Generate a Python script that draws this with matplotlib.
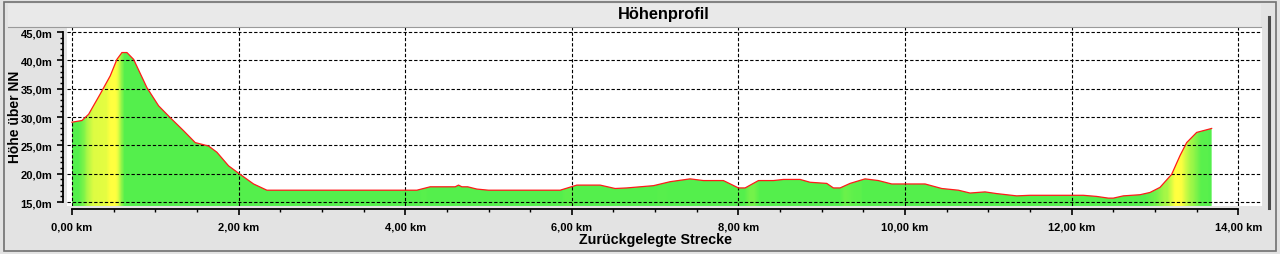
import numpy as np
import matplotlib
matplotlib.use("Agg")
import matplotlib.pyplot as plt
from matplotlib.ticker import MultipleLocator, FuncFormatter
from matplotlib.patches import Rectangle
from matplotlib.lines import Line2D

# Höhenprofil – Strecke (km) und Höhe (m)
strecke_km = [0.00, 0.12, 0.20, 0.34, 0.46, 0.54, 0.60, 0.66, 0.74, 0.90,
              1.04, 1.18, 1.34, 1.48, 1.64, 1.74, 1.88, 2.00, 2.18, 2.34,
              4.14, 4.30, 4.60, 4.64, 4.68, 4.75, 4.86, 5.00, 5.86, 6.06,
              6.34, 6.52, 6.66, 6.98, 7.18, 7.42, 7.58, 7.82, 8.00, 8.08,
              8.24, 8.42, 8.54, 8.74, 8.86, 9.06, 9.14, 9.22, 9.34, 9.52,
              9.68, 9.84, 10.24, 10.44, 10.64, 10.78, 10.96, 11.10, 11.34, 11.50,
              12.14, 12.30, 12.44, 12.50, 12.62, 12.82, 12.94, 13.06, 13.20, 13.30,
              13.38, 13.50, 13.68]
hoehe_m = [29.1, 29.4, 30.5, 34.1, 37.3, 40.2, 41.4, 41.4, 40.2, 35.2,
           32.0, 29.9, 27.6, 25.5, 24.9, 23.8, 21.4, 20.1, 18.2, 17.1,
           17.1, 17.7, 17.7, 18.0, 17.7, 17.7, 17.3, 17.1, 17.1, 18.0,
           18.0, 17.4, 17.5, 17.9, 18.6, 19.1, 18.8, 18.8, 17.5, 17.5,
           18.8, 18.8, 19.0, 19.0, 18.5, 18.3, 17.5, 17.5, 18.3, 19.1,
           18.8, 18.2, 18.2, 17.4, 17.1, 16.6, 16.8, 16.5, 16.1, 16.2,
           16.2, 16.0, 15.7, 15.7, 16.1, 16.3, 16.7, 17.6, 19.9, 23.2,
           25.5, 27.3, 28.0]

x_ticks = [0, 2, 4, 6, 8, 10, 12, 14]
y_ticks = [15, 20, 25, 30, 35, 40, 45]

km = np.array(strecke_km)
h = np.array(hoehe_m)

bg = "#e3e3e3"
fig = plt.figure(figsize=(12.8, 2.55), dpi=100, facecolor=bg)
plt.rcParams['font.family'] = ['Liberation Sans', 'DejaVu Sans']

# Rahmen und Titelleiste
fig.patches.append(Rectangle((0.003, 0.012), 0.994, 0.976, transform=fig.transFigure,
                             fill=False, edgecolor="#707070", lw=1.2))
fig.patches.append(Rectangle((0.006, 0.892), 0.979, 0.09, transform=fig.transFigure,
                             facecolor="#e9e9e9", edgecolor="none"))
fig.lines.append(Line2D([0.006, 0.985], [0.892, 0.892], transform=fig.transFigure,
                        color="#9a9a9a", lw=0.8))
# Scrollleiste rechts
fig.lines.append(Line2D([0.9914, 0.9914], [0.18, 0.93], transform=fig.transFigure,
                        color="#4a4a4a", lw=2.2))

ax = fig.add_axes([0.0523, 0.188, 0.934, 0.702])
ax.set_facecolor("white")
ax.set_xlim(-0.06, 14.29)
ax.set_ylim(14.3, 45.9)

# Füllfarbe nach Steigung (grün -> gelb)
xs = np.linspace(0, km[-1], 1400)
ys = np.interp(xs, km, h)
slope = np.gradient(ys, xs)
kern = np.ones(11) / 11
slope = np.convolve(slope, kern, mode="same")
t = np.clip((slope - 3) / 28.0, 0, 1)
green = np.array([0.33, 0.94, 0.30])
yellow = np.array([1.0, 1.0, 0.25])
cols = green[None, :] * (1 - t[:, None]) + yellow[None, :] * t[:, None]
img = cols[None, :, :]

poly = ax.fill_between(km, h, 14.3, color="none", lw=0)
im = ax.imshow(img, extent=[0, km[-1], 14.3, 45.9], aspect="auto",
               interpolation="bilinear", zorder=1)
path = poly.get_paths()[0]
im.set_clip_path(path, transform=ax.transData)
ax.plot(km, h, color="#ff1a1a", lw=0.9, zorder=3)

# Gitter
for xv in x_ticks:
    ax.axvline(xv, color="black", lw=0.8, ls=(0, (3, 1.8)), zorder=2)
for yv in y_ticks:
    ax.axhline(yv, color="black", lw=0.8, ls=(0, (3, 1.8)), zorder=2)

ax.spines['top'].set_visible(False)
ax.spines['right'].set_visible(False)
ax.spines['left'].set_position(('outward', 3))
ax.spines['bottom'].set_position(('outward', 2))
ax.spines['left'].set_bounds(15, 45)
ax.spines['bottom'].set_bounds(0, 14)
ax.spines['left'].set_linewidth(1.3)
ax.spines['bottom'].set_linewidth(1.3)

ax.set_xticks(x_ticks)
ax.set_yticks(y_ticks)
ax.xaxis.set_minor_locator(MultipleLocator(0.5))
ax.yaxis.set_minor_locator(MultipleLocator(1))
ax.xaxis.set_major_formatter(FuncFormatter(lambda v, p: f"{v:.2f} km".replace(".", ",")))
ax.yaxis.set_major_formatter(FuncFormatter(lambda v, p: f"{v:.1f}m".replace(".", ",")))
ax.tick_params(axis="both", which="major", labelsize=8, width=1.2, length=4.5, colors="black")
ax.tick_params(axis="both", which="minor", width=1.0, length=2.2)
ax.tick_params(axis="y", which="major", pad=3)
ax.tick_params(axis="x", which="major", pad=4.5)
for lab in ax.get_xticklabels() + ax.get_yticklabels():
    lab.set_fontweight("bold")

fig.text(0.5187, 0.945, "Höhenprofil", ha="center", va="center", fontsize=11.8, fontweight="bold")
fig.text(0.512, 0.059, "Zurückgelegte Strecke", ha="center", va="center", fontsize=10.3, fontweight="bold")
fig.text(0.0117, 0.54, "Höhe über NN", ha="center", va="center", rotation=90,
         fontsize=10, fontweight="bold")

fig.savefig("out.png", dpi=100, facecolor=bg)
